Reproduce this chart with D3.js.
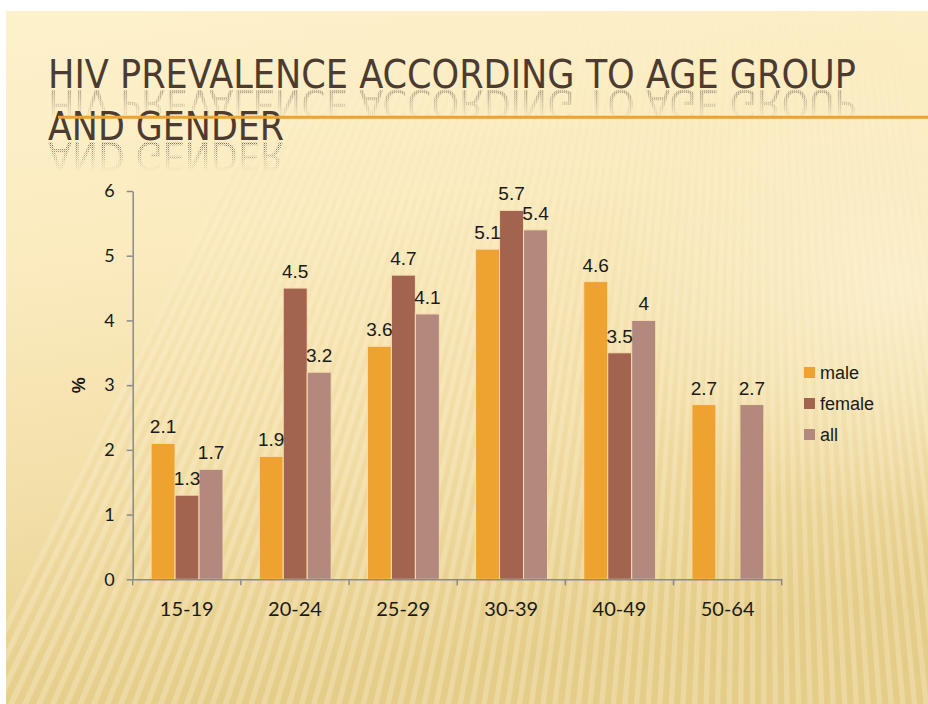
<!DOCTYPE html>
<html>
<head>
<meta charset="utf-8">
<script src="https://cdn.jsdelivr.net/npm/d3@7"></script>
<style>
  html, body { margin: 0; padding: 0; background: #fff; }
  svg { display: block; }
</style>
</head>
<body>
<div id="chart"></div>
<script>
const groups = ["15-19", "20-24", "25-29", "30-39", "40-49", "50-64"];
const seriesNames = ["male", "female", "all"];
const maleValues = [2.1, 1.9, 3.6, 5.1, 4.6, 2.7];
const femaleValues = [1.3, 4.5, 4.7, 5.7, 3.5, null];
const allValues = [1.7, 3.2, 4.1, 5.4, 4, 2.7];
const yTicks = [0, 1, 2, 3, 4, 5, 6];
const colors = ["#eea22f", "#a2634f", "#b3887d"];

const W = 928, H = 704;

const svg = d3.select("#chart").append("svg")
    .attr("width", W)
    .attr("height", H);

const defs = svg.append("defs");

// slide background
const bg = defs.append("linearGradient").attr("id", "bg")
    .attr("x1", 0).attr("y1", 0).attr("x2", 0.2).attr("y2", 1);
bg.append("stop").attr("offset", "0").attr("stop-color", "#fdf1cc");
bg.append("stop").attr("offset", "0.35").attr("stop-color", "#fbebbf");
bg.append("stop").attr("offset", "0.7").attr("stop-color", "#f2dea7");
bg.append("stop").attr("offset", "1").attr("stop-color", "#e6ce8b");

const glow = defs.append("radialGradient").attr("id", "glow")
    .attr("cx", 0.97).attr("cy", 0.4).attr("r", 0.33);
glow.append("stop").attr("offset", "0").attr("stop-color", "#fff6dc").attr("stop-opacity", 0.6);
glow.append("stop").attr("offset", "1").attr("stop-color", "#fff6dc").attr("stop-opacity", 0);

const rayFade = defs.append("linearGradient").attr("id", "rayFade")
    .attr("x1", 0).attr("y1", 0).attr("x2", 0).attr("y2", 1);
rayFade.append("stop").attr("offset", "0").attr("stop-color", "#fff").attr("stop-opacity", 0);
rayFade.append("stop").attr("offset", "0.12").attr("stop-color", "#fff").attr("stop-opacity", 0.2);
rayFade.append("stop").attr("offset", "0.6").attr("stop-color", "#fff").attr("stop-opacity", 0.7);
rayFade.append("stop").attr("offset", "1").attr("stop-color", "#fff").attr("stop-opacity", 0.9);

defs.append("mask").attr("id", "rayMask")
    .append("rect").attr("x", 0).attr("y", 0).attr("width", W).attr("height", H)
    .attr("fill", "url(#rayFade)");

defs.append("clipPath").attr("id", "slideClip")
    .append("rect").attr("x", 6).attr("y", 11).attr("width", W - 6).attr("height", H - 11);

svg.append("rect")
    .attr("x", 6).attr("y", 11).attr("width", W - 6).attr("height", H - 11)
    .attr("fill", "url(#bg)");

// light rays coming from above
const focus = [760, -900];
const rays = svg.append("g").attr("mask", "url(#rayMask)")
    .attr("clip-path", "url(#slideClip)");
const angles = d3.range(-0.46, 0.14, 0.0072);
const wedge = (a, b) => {
    const L = 2000;
    return `M${focus[0]},${focus[1]}L${focus[0] + L * Math.sin(a)},${focus[1] + L * Math.cos(a)}L${focus[0] + L * Math.sin(b)},${focus[1] + L * Math.cos(b)}Z`;
};
rays.selectAll("path.ray").data(angles).join("path")
    .attr("class", "ray")
    .attr("d", a => wedge(a, a + 0.0032))
    .attr("fill", "#fff8e4")
    .attr("opacity", 0.28);
rays.selectAll("path.shade").data(angles).join("path")
    .attr("class", "shade")
    .attr("d", a => wedge(a + 0.004, a + 0.0068))
    .attr("fill", "#d9bd73")
    .attr("opacity", 0.1);

svg.append("rect")
    .attr("x", 6).attr("y", 11).attr("width", W - 6).attr("height", H - 11)
    .attr("fill", "url(#glow)");

// title with reflection
const titleLines = [
    { text: "HIV PREVALENCE ACCORDING TO AGE GROUP", y: 88.3, len: 808 },
    { text: "AND GENDER", y: 140, len: 236 }
];
const titleFont = "'Liberation Sans Narrow', 'DejaVu Sans Condensed', sans-serif";

const dots = defs.append("pattern").attr("id", "dots")
    .attr("width", 2).attr("height", 2).attr("patternUnits", "userSpaceOnUse");
dots.append("rect").attr("width", 1).attr("height", 1).attr("fill", "#6d6052");
dots.append("rect").attr("x", 1).attr("y", 1).attr("width", 1).attr("height", 1)
    .attr("fill", "#9a8f80").attr("opacity", 0.5);

const refFade = defs.append("linearGradient").attr("id", "refFade")
    .attr("x1", 0).attr("y1", 0).attr("x2", 0).attr("y2", 1);
refFade.append("stop").attr("offset", "0").attr("stop-color", "#fff").attr("stop-opacity", 0);
refFade.append("stop").attr("offset", "0.4").attr("stop-color", "#fff").attr("stop-opacity", 0.35);
refFade.append("stop").attr("offset", "1").attr("stop-color", "#fff").attr("stop-opacity", 0.95);

const title = svg.append("g");
titleLines.forEach((t, i) => {
    defs.append("mask").attr("id", "refMask" + i)
        .attr("maskUnits", "userSpaceOnUse")
        .attr("x", 0).attr("y", t.y - 30).attr("width", W).attr("height", 30)
        .append("rect").attr("x", 0).attr("y", t.y - 30).attr("width", W).attr("height", 30)
        .attr("fill", "url(#refFade)");
    title.append("g")
        .attr("transform", `translate(0,${2 * t.y + 2}) scale(1,-1)`)
        .append("text")
        .attr("x", 48).attr("y", t.y)
        .attr("mask", `url(#refMask${i})`)
        .attr("textLength", t.len).attr("lengthAdjust", "spacingAndGlyphs")
        .style("font-family", titleFont)
        .style("font-size", "39px")
        .attr("fill", "url(#dots)")
        .text(t.text);
});

svg.append("line")
    .attr("x1", 58).attr("x2", W).attr("y1", 117.3).attr("y2", 117.3)
    .attr("stroke", "#eea22f").attr("stroke-width", 3);

titleLines.forEach(t => {
    title.append("text")
        .attr("x", 48).attr("y", t.y)
        .attr("textLength", t.len).attr("lengthAdjust", "spacingAndGlyphs")
        .style("font-family", titleFont)
        .style("font-size", "39px")
        .attr("fill", "#4b3b30")
        .text(t.text);
});

// chart
const margin = { left: 132.7, right: 781.7, top: 191, bottom: 579.3 };

const x0 = d3.scaleBand().domain(groups).range([margin.left, margin.right]).padding(0);
const x1 = d3.scaleBand().domain(seriesNames)
    .range([x0.bandwidth() * 0.17, x0.bandwidth() * 0.835]).padding(0);
const y = d3.scaleLinear().domain([0, 6]).range([margin.bottom, margin.top]);
const color = d3.scaleOrdinal().domain(seriesNames).range(colors);

const table = groups.map((g, i) => ({
    group: g,
    values: [
        { key: "male", value: maleValues[i] },
        { key: "female", value: femaleValues[i] },
        { key: "all", value: allValues[i] }
    ]
}));

const yAxis = d3.axisLeft(y).tickValues(yTicks).tickFormat(d3.format("d"))
    .tickSize(6).tickSizeOuter(0).tickPadding(12);
const yAxisGroup = svg.append("g").attr("transform", `translate(${margin.left},0)`).call(yAxis);
yAxisGroup.selectAll("path, line").attr("stroke", "#8a8a8a").attr("stroke-width", 1.5);
yAxisGroup.selectAll("text")
    .style("font-family", "Lato, sans-serif").style("font-size", "18px").attr("fill", "#1a1a1a");

const barsGroup = svg.append("g");
const groupSel = barsGroup.selectAll("g").data(table).join("g")
    .attr("transform", d => `translate(${x0(d.group)},0)`);

groupSel.selectAll("rect")
    .data(d => d.values.filter(v => v.value != null))
    .join("rect")
    .attr("x", d => x1(d.key))
    .attr("width", x1.bandwidth())
    .attr("y", d => y(d.value))
    .attr("height", d => y(0) - y(d.value))
    .attr("fill", d => color(d.key))
    .attr("stroke", "#f7ddb0")
    .attr("stroke-width", 1);

groupSel.selectAll("text")
    .data(d => d.values.filter(v => v.value != null))
    .join("text")
    .attr("x", d => x1(d.key) + x1.bandwidth() / 2)
    .attr("y", d => y(d.value) - 10)
    .attr("text-anchor", "middle")
    .style("font-family", "'Liberation Sans', Arial, sans-serif")
    .style("font-size", "19px")
    .attr("fill", "#1a1a1a")
    .text(d => d.value);

// x axis
const xAxis = d3.axisBottom(x0).tickSize(0).tickPadding(23);
const xAxisGroup = svg.append("g").attr("transform", `translate(0,${margin.bottom})`).call(xAxis);
xAxisGroup.select("path").attr("stroke", "#8a8a8a").attr("stroke-width", 1.5);
xAxisGroup.selectAll("text")
    .style("font-family", "Lato, sans-serif").style("font-size", "20px").attr("fill", "#1a1a1a");
const boundaries = groups.map(g => x0(g)).concat([x0.range()[1]]);
xAxisGroup.selectAll("line.bound").data(boundaries).join("line")
    .attr("class", "bound")
    .attr("x1", d => d).attr("x2", d => d)
    .attr("y1", 0).attr("y2", 6)
    .attr("stroke", "#8a8a8a").attr("stroke-width", 1.5);

// y axis title
svg.append("text")
    .attr("transform", `translate(85,${(margin.top + margin.bottom) / 2}) rotate(-90)`)
    .attr("text-anchor", "middle")
    .style("font-family", "'Liberation Sans', Arial, sans-serif")
    .style("font-size", "18px")
    .style("font-weight", "bold")
    .attr("fill", "#1a1a1a")
    .text("%");

// legend
const legend = svg.append("g").attr("transform", "translate(804,367)");
const legendItem = legend.selectAll("g").data(seriesNames).join("g")
    .attr("transform", (d, i) => `translate(0,${i * 31})`);
legendItem.append("rect")
    .attr("width", 11).attr("height", 11)
    .attr("fill", d => color(d));
legendItem.append("text")
    .attr("x", 16).attr("y", 12)
    .style("font-family", "'Liberation Sans', Arial, sans-serif")
    .style("font-size", "18px")
    .attr("fill", "#1a1a1a")
    .text(d => d);
</script>
</body>
</html>
